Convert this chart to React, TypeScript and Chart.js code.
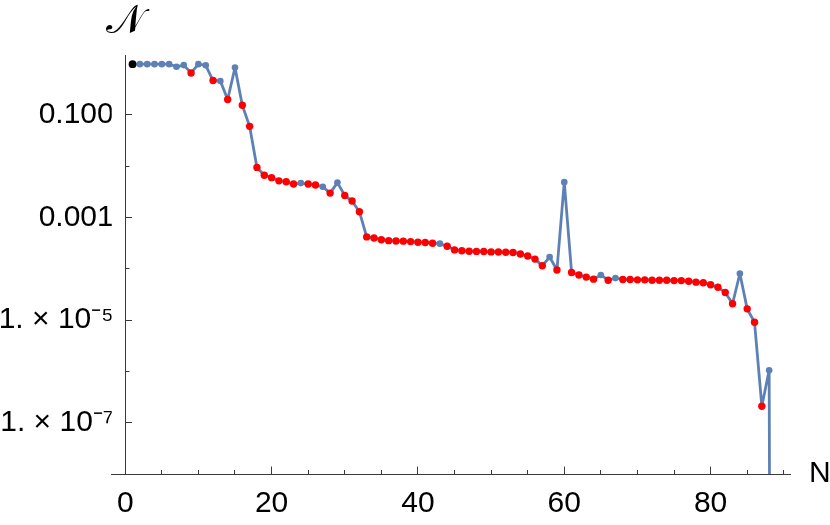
import React, { useEffect, useRef } from 'react';
import { Chart, registerables } from 'chart.js';

Chart.register(...registerables);

// ---------------- data ----------------
const nValues = [
  1, 2, 3, 4, 5, 6, 7, 8, 9, 10, 11, 12, 13, 14, 15, 16, 17, 18, 19, 20,
  21, 22, 23, 24, 25, 26, 27, 28, 29, 30, 31, 32, 33, 34, 35, 36, 37, 38, 39, 40,
  41, 42, 43, 44, 45, 46, 47, 48, 49, 50, 51, 52, 53, 54, 55, 56, 57, 58, 59, 60,
  61, 62, 63, 64, 65, 66, 67, 68, 69, 70, 71, 72, 73, 74, 75, 76, 77, 78, 79, 80,
  81, 82, 83, 84, 85, 86, 87, 88, 89,
];

const negativity = [
  0.98, 0.98, 0.98, 0.98, 0.98, 0.98, 0.87, 0.94, 0.66, 0.98,
  0.93, 0.47, 0.46, 0.2, 0.84, 0.155, 0.06, 0.0095, 0.0067, 0.006,
  0.0052, 0.005, 0.0045, 0.0047, 0.0045, 0.0043, 0.004, 0.003, 0.0048, 0.0027,
  0.0021, 0.0013, 0.00042, 0.0004, 0.00037, 0.000355, 0.00035, 0.000347, 0.00034, 0.00033,
  0.000327, 0.000316, 0.00031, 0.000275, 0.000234, 0.000226, 0.000221, 0.000219, 0.000218, 0.000214,
  0.000213, 0.000211, 0.000209, 0.000195, 0.000178, 0.000155, 0.000115, 0.00017, 0.000095, 0.0049,
  0.000085, 0.000076, 0.000069, 0.000063, 0.000076, 0.00006, 0.000066, 0.000062, 0.000062, 0.000061,
  0.000061, 0.00006, 0.00006, 0.00006, 0.000059, 0.000059, 0.0000575, 0.000055, 0.0000535, 0.000049,
  0.0000437, 0.0000347, 0.0000209, 0.0000813, 0.0000166, 0.0000091, 2.1e-7, 1.05e-6, 1e-50,
];

// k = black, b = blue, r = red, - = no marker
const markerKind = [
  'k', 'b', 'b', 'b', 'b', 'b', 'b', 'b', 'r', 'b',
  'b', 'r', 'b', 'r', 'b', 'r', 'r', 'r', 'r', 'r',
  'r', 'r', 'r', 'b', 'r', 'r', 'b', 'r', 'b', 'r',
  'r', 'r', 'r', 'r', 'r', 'r', 'r', 'r', 'r', 'r',
  'r', 'r', 'b', 'r', 'r', 'r', 'r', 'r', 'r', 'r',
  'r', 'r', 'r', 'r', 'r', 'r', 'r', 'b', 'r', 'b',
  'r', 'r', 'r', 'r', 'b', 'r', 'b', 'r', 'r', 'r',
  'r', 'r', 'r', 'r', 'r', 'r', 'r', 'r', 'r', 'r',
  'r', 'r', 'r', 'b', 'r', 'r', 'r', 'b', '-',
];

const xMajorTicks = [0, 20, 40, 60, 80];
const xMajorLabels = ['0', '20', '40', '60', '80'];
const xMinorTicks = [5, 10, 15, 25, 30, 35, 45, 50, 55, 65, 70, 75, 85, 90];
const yMajorTicks = [1e-1, 1e-3, 1e-5, 1e-7];
const yMajorLabels = ['0.100', '0.001', '1. \u00d7 10\u207b\u2075', '1. \u00d7 10\u207b\u2077'];
const yMinorTicks = [1e-2, 1e-4, 1e-6];

const X_MIN = -1.85;
const X_MAX = 90.85;
const Y_MIN = 1e-8;
const Y_MAX = 1.478;

const BLUE = '#5E81B5';
const RED = '#FF0000';
const BLACK = '#000000';
const AXIS = '#3a3a3a';
const FONT = "'Liberation Sans', Arial, sans-serif";

export default function App() {
  const ref = useRef<HTMLCanvasElement>(null);

  useEffect(() => {
    if (!ref.current) return;
    const points = nValues.map((n, i) => ({ x: n, y: negativity[i] }));
    const colorOf = (k: string) => (k === 'r' ? RED : k === 'k' ? BLACK : BLUE);
    const radiusOf = (k: string) => (k === 'r' ? 3.7 : k === 'k' ? 3.9 : k === 'b' ? 3.3 : 0);

    const axisLabels = {
      id: 'axisLabels',
      afterDraw(chart: any) {
        const c = chart.ctx;
        const xs = chart.scales.x;
        const ys = chart.scales.y;
        c.save();
        c.fillStyle = '#000';
        c.font = `30px ${FONT}`;
        c.textAlign = 'left';
        c.textBaseline = 'middle';
        c.fillText('N', xs.right + 19, ys.bottom);
        c.font = `40px 'DejaVu Sans', 'DejaVu Serif', serif`;
        c.textAlign = 'center';
        c.textBaseline = 'alphabetic';
        c.fillText('\u{1D4A9}', xs.getPixelForValue(0), ys.top - 22);
        c.restore();
      },
    };

    const chart = new Chart(ref.current, {
      type: 'line',
      data: {
        datasets: [
          {
            data: points,
            xAxisID: 'x',
            yAxisID: 'y',
            borderColor: BLUE,
            borderWidth: 2.8,
            borderJoinStyle: 'round',
            borderCapStyle: 'round',
            tension: 0,
            fill: false,
            pointBackgroundColor: markerKind.map(colorOf),
            pointBorderWidth: 0,
            pointRadius: markerKind.map(radiusOf),
            pointHoverRadius: markerKind.map(radiusOf),
            clip: { left: 10, top: 10, right: 10, bottom: 0 } as any,
          },
        ],
      },
      options: {
        animation: false,
        responsive: false,
        devicePixelRatio: 1,
        layout: { padding: { left: 0, right: 40, top: 55, bottom: 0 } },
        plugins: { legend: { display: false }, tooltip: { enabled: false }, title: { display: false } },
        scales: {
          x: {
            type: 'linear',
            position: 'bottom',
            min: X_MIN,
            max: X_MAX,
            afterBuildTicks: (s: any) => {
              s.ticks = xMajorTicks.map((v) => ({ value: v }));
            },
            afterFit: (s: any) => {
              s.height = 51;
            },
            border: { display: true, color: AXIS, width: 1 },
            grid: { display: true, drawOnChartArea: false, drawTicks: true, tickLength: -7.5, tickColor: AXIS, tickWidth: 1 },
            ticks: {
              autoSkip: false,
              maxRotation: 0,
              padding: 19,
              color: '#000',
              font: { family: FONT, size: 30 },
              callback: (_v: any, i: number) => xMajorLabels[i],
            },
          },
          x2: {
            type: 'linear',
            axis: 'x',
            position: { y: Y_MIN } as any,
            min: X_MIN,
            max: X_MAX,
            afterBuildTicks: (s: any) => {
              s.ticks = xMinorTicks.map((v) => ({ value: v }));
            },
            border: { display: false },
            grid: { display: true, drawOnChartArea: false, drawTicks: true, tickLength: -4, tickColor: AXIS, tickWidth: 1 },
            ticks: { display: false },
          },
          yl: {
            type: 'logarithmic',
            axis: 'y',
            position: 'left',
            min: Y_MIN,
            max: Y_MAX,
            afterBuildTicks: (s: any) => {
              s.ticks = yMajorTicks.map((v) => ({ value: v }));
            },
            afterFit: (s: any) => {
              s.width = 111.7;
            },
            border: { display: false },
            grid: { display: false, drawTicks: false },
            ticks: {
              autoSkip: false,
              padding: -2,
              color: '#000',
              font: { family: FONT, size: 30 },
              callback: (_v: any, i: number) => yMajorLabels[i],
            },
          },
          y: {
            type: 'logarithmic',
            position: { x: 0 } as any,
            min: Y_MIN,
            max: Y_MAX,
            afterBuildTicks: (s: any) => {
              s.ticks = yMajorTicks.map((v) => ({ value: v }));
            },
            border: { display: true, color: AXIS, width: 1 },
            grid: { display: true, drawOnChartArea: false, drawTicks: true, tickLength: -7, tickColor: AXIS, tickWidth: 1 },
            ticks: { display: false },
          },
          y2: {
            type: 'logarithmic',
            axis: 'y',
            position: { x: 0 } as any,
            min: Y_MIN,
            max: Y_MAX,
            afterBuildTicks: (s: any) => {
              s.ticks = yMinorTicks.map((v) => ({ value: v }));
            },
            border: { display: false },
            grid: { display: true, drawOnChartArea: false, drawTicks: true, tickLength: -4.5, tickColor: AXIS, tickWidth: 1 },
            ticks: { display: false },
          },
        },
      } as any,
      plugins: [axisLabels],
    });

    return () => chart.destroy();
  }, []);

  return (
    <div style={{ position: 'absolute', left: 0, top: 0, width: 830, height: 525, background: '#fff' }}>
      <canvas ref={ref} width={830} height={525} style={{ display: 'block', width: 830, height: 525 }} />
    </div>
  );
}
